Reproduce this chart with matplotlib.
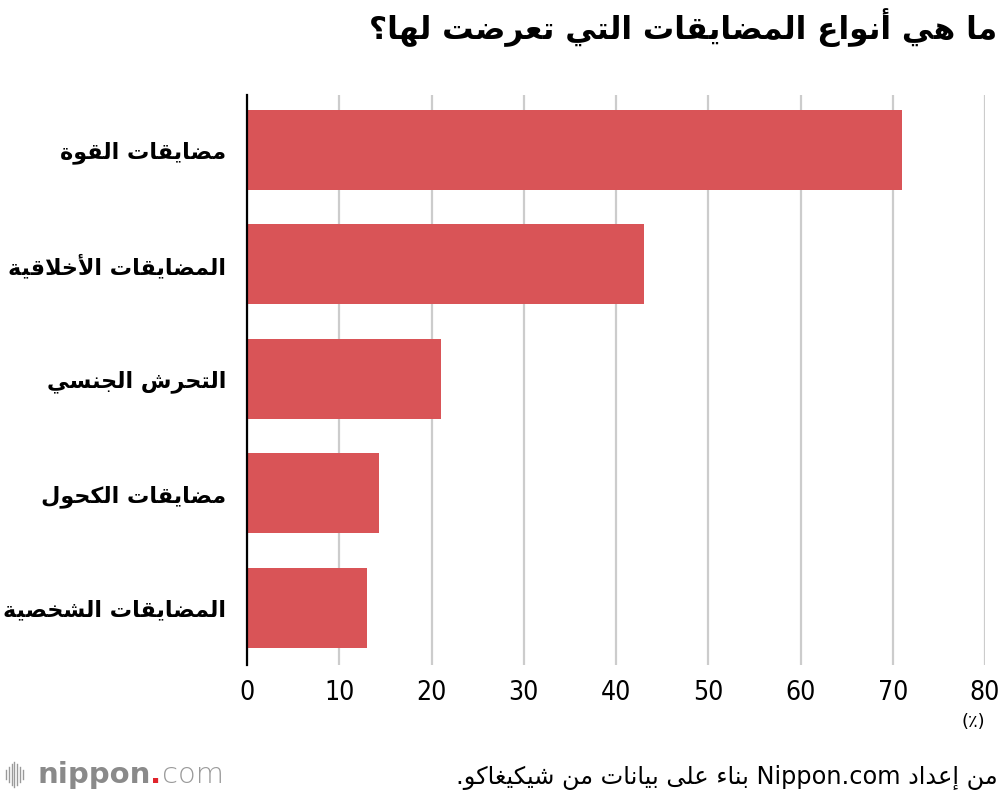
import re
import matplotlib
matplotlib.use('Agg')
import matplotlib.pyplot as plt
from matplotlib.lines import Line2D

# data
categories = ['مضايقات القوة', 'المضايقات الأخلاقية', 'التحرش الجنسي',
              'مضايقات الكحول', 'المضايقات الشخصية']
values = [71, 43, 21, 14.3, 13]
xticks = [0, 10, 20, 30, 40, 50, 60, 70, 80]
title = 'ما هي أنواع المضايقات التي تعرضت لها؟'
unit_label = '(٪)'
source = 'من إعداد Nippon.com بناء على بيانات من شيكيغاكو.'

BAR_COLOR = '#d95457'
GRID_COLOR = '#cccccc'

# --- minimal arabic shaping (presentation forms B) + visual reorder ---
_seq = [('ء', 1), ('آ', 2), ('أ', 2), ('ؤ', 2), ('إ', 2), ('ئ', 4), ('ا', 2),
        ('ب', 4), ('ة', 2), ('ت', 4), ('ث', 4), ('ج', 4), ('ح', 4), ('خ', 4),
        ('د', 2), ('ذ', 2), ('ر', 2), ('ز', 2), ('س', 4), ('ش', 4), ('ص', 4),
        ('ض', 4), ('ط', 4), ('ظ', 4), ('ع', 4), ('غ', 4), ('ف', 4), ('ق', 4),
        ('ك', 4), ('ل', 4), ('م', 4), ('ن', 4), ('ه', 4), ('و', 2), ('ى', 2),
        ('ي', 4)]
FORMS = {}
_cp = 0xFE80
for ch, n in _seq:
    FORMS[ch] = [chr(_cp + i) for i in range(n)] + [None] * (4 - n)
    _cp += n
LAM_ALEF = {'آ': 0xFEF5, 'أ': 0xFEF7, 'إ': 0xFEF9, 'ا': 0xFEFB}


def is_dual(c):
    return c in FORMS and FORMS[c][2] is not None


def is_joining(c):
    return c in FORMS and FORMS[c][1] is not None


def shape(text):
    # merge lam + alef into ligature placeholders
    chars = []
    i = 0
    while i < len(text):
        if text[i] == 'ل' and i + 1 < len(text) and text[i + 1] in LAM_ALEF:
            chars.append(('LA', text[i + 1]))
            i += 2
        else:
            chars.append(text[i])
            i += 1

    def base(c):
        return 'ل' if isinstance(c, tuple) else c

    out = []
    for k, c in enumerate(chars):
        prev = chars[k - 1] if k > 0 else None
        nxt = chars[k + 1] if k + 1 < len(chars) else None
        jp = prev is not None and not isinstance(prev, tuple) and is_dual(prev) \
            and is_joining(base(c))
        if isinstance(c, tuple):
            out.append(chr(LAM_ALEF[c[1]] + (1 if jp else 0)))
            continue
        if c not in FORMS:
            out.append(c)
            continue
        jn = nxt is not None and is_dual(c) and is_joining(base(nxt))
        f = FORMS[c]
        if jp and jn:
            out.append(f[3])
        elif jn:
            out.append(f[2])
        elif jp:
            out.append(f[1])
        else:
            out.append(f[0])
    return ''.join(out)


def ar(text):
    s = shape(text)[::-1]
    s = re.sub(r'[A-Za-z0-9][A-Za-z0-9.]*[A-Za-z0-9]', lambda m: m.group(0)[::-1], s)
    return s.translate(str.maketrans('()', ')('))


plt.rcParams['font.family'] = ['DejaVu Sans']

fig = plt.figure(figsize=(10, 7.96), dpi=100)
ax = fig.add_axes([0.247, 0.1646, 0.738, 0.716])

ypos = list(range(len(categories)))
ax.barh(ypos, values, height=0.70, color=BAR_COLOR, zorder=3)
ax.set_xlim(0, 80)
ax.set_ylim(4.5, -0.48)
ax.set_xticks(xticks)
ax.set_xticklabels([str(t) for t in xticks], fontsize=19, fontstretch='condensed')
ax.set_yticks(ypos)
ax.set_yticklabels([ar(c) for c in categories], fontsize=16, fontweight='bold')
ax.tick_params(axis='both', length=0)
ax.tick_params(axis='x', pad=11)
ax.tick_params(axis='y', pad=15)
ax.xaxis.grid(True, color=GRID_COLOR, linewidth=1.6, zorder=0)
for s in ['top', 'right', 'bottom']:
    ax.spines[s].set_visible(False)
ax.spines['left'].set_color('black')
ax.spines['left'].set_linewidth(1.6)
ax.spines['left'].set_zorder(4)

fig.text(0.997, 0.965, ar(title), ha='right', va='center',
         fontsize=22.5, fontweight='bold')
fig.text(0.985, 0.093, ar(unit_label), ha='right', va='center', fontsize=13)
fig.text(0.998, 0.023, ar(source), ha='right', va='center', fontsize=17.3)

# nippon.com logo
for k, h in enumerate([0.012, 0.018, 0.026, 0.032, 0.026, 0.018, 0.012]):
    x = 0.006 + k * 0.0028
    fig.add_artist(Line2D([x, x], [0.027 - h / 2, 0.027 + h / 2],
                          color='#9a9a9a', linewidth=1.0))
renderer = fig.canvas.get_renderer()
t1 = fig.text(0.037, 0.027, 'nippon', ha='left', va='center', fontsize=21,
              fontweight='bold', color='#8a8a8a')
bb = t1.get_window_extent(renderer).transformed(fig.transFigure.inverted())
t2 = fig.text(bb.x1, 0.027, '.', ha='left', va='center', fontsize=21,
              fontweight='bold', color='#e0242c')
bb = t2.get_window_extent(renderer).transformed(fig.transFigure.inverted())
fig.text(bb.x1, 0.027, 'com', ha='left', va='center', fontsize=21,
         fontweight='light', color='#9a9a9a')

fig.savefig('out.png', dpi=100)
